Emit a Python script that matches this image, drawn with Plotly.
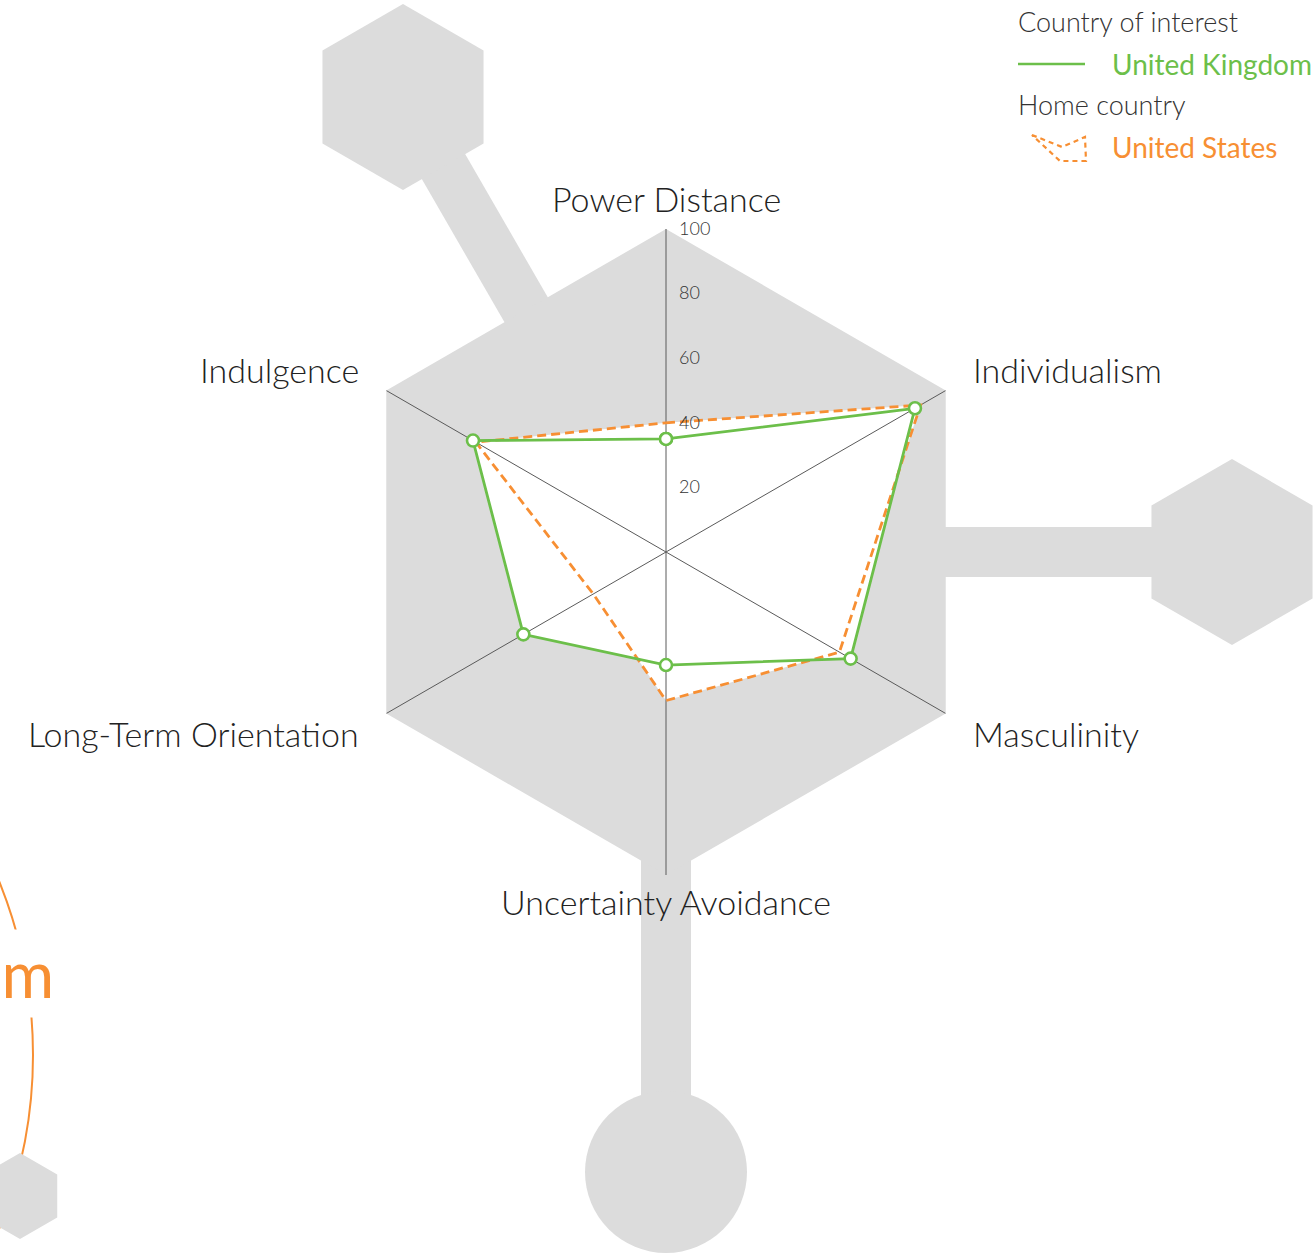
import math
import plotly.graph_objects as go

# Hofstede dimensions, clockwise from the top
dimensions = ["Power Distance", "Individualism", "Masculinity",
              "Uncertainty Avoidance", "Long-Term Orientation", "Indulgence"]
uk_scores = [35, 89, 66, 35, 51, 69]
us_scores = [40, 91, 62, 46, 26, 68]
radial_ticks = [20, 40, 60, 80, 100]
max_score = 100

GREEN = "#6cbf4a"
ORANGE = "#f78f33"
GREY = "#dcdcdc"
FONT = "Lato, 'Open Sans', sans-serif"

W, H = 1315, 1255


def px(x):
    return x / W


def py(y):
    return 1 - y / H


def poly_path(points):
    return "M " + " L ".join(f"{px(x):.5f},{py(y):.5f}" for x, y in points) + " Z"


def hexagon(cx, cy, r):
    pts = []
    for k in range(6):
        a = math.radians(90 + 60 * k)
        pts.append((cx + r * math.cos(a), cy - r * math.sin(a)))
    return poly_path(pts)


def bar(cx, cy, angle, d0, d1, width):
    a = math.radians(angle)
    ux, uy = math.cos(a), -math.sin(a)
    nx, ny = -uy, ux
    h = width / 2
    pts = [
        (cx + ux * d0 + nx * h, cy + uy * d0 + ny * h),
        (cx + ux * d1 + nx * h, cy + uy * d1 + ny * h),
        (cx + ux * d1 - nx * h, cy + uy * d1 - ny * h),
        (cx + ux * d0 - nx * h, cy + uy * d0 - ny * h),
    ]
    return poly_path(pts)


# polar centre / radius in pixels
CX, CY, R = 666, 552, 323

fig = go.Figure()

closed = dimensions + dimensions[:1]

# grey hexagon background
fig.add_trace(go.Scatterpolar(
    r=[max_score] * 7, theta=closed, mode="lines", fill="toself",
    fillcolor=GREY, line=dict(width=0, color=GREY), hoverinfo="skip", showlegend=False,
))
# white interior of both profiles
for vals in (us_scores, uk_scores):
    fig.add_trace(go.Scatterpolar(
        r=vals + vals[:1], theta=closed, mode="lines", fill="toself",
        fillcolor="white", line=dict(width=0, color="white"), hoverinfo="skip", showlegend=False,
    ))
# spokes
for d in dimensions:
    fig.add_trace(go.Scatterpolar(
        r=[0, max_score], theta=[d, d], mode="lines",
        line=dict(color="#5a5a5a", width=1), hoverinfo="skip", showlegend=False,
    ))
fig.add_trace(go.Scatterpolar(
    r=us_scores + us_scores[:1], theta=closed, mode="lines", name="United States",
    line=dict(color=ORANGE, width=2.8, dash="9px,5px"), showlegend=False,
))
fig.add_trace(go.Scatterpolar(
    r=uk_scores + uk_scores[:1], theta=closed, mode="lines+markers", name="United Kingdom",
    line=dict(color=GREEN, width=2.8),
    marker=dict(size=12, color="white", line=dict(color=GREEN, width=2.6)),
    showlegend=False,
))

shapes = []
# decorative connectors and end pieces
shapes.append(dict(type="path", path=bar(CX, CY, 120, 250, 525, 50)))
shapes.append(dict(type="path", path=hexagon(403, 97, 93)))
shapes.append(dict(type="path", path=bar(CX, CY, 0, 250, 570, 50)))
shapes.append(dict(type="path", path=hexagon(1232, 552, 93)))
shapes.append(dict(type="path", path=bar(CX, CY, 270, 250, 600, 50)))
shapes.append(dict(type="circle", x0=px(585), x1=px(747), y0=py(1091), y1=py(1253)))
for s in shapes:
    s.update(xref="paper", yref="paper", fillcolor=GREY, line=dict(width=0), layer="below")

# orange ring at bottom left with small hexagon
shapes.append(dict(type="circle", xref="paper", yref="paper", layer="below",
                   x0=px(-429 - 462), x1=px(-429 + 462), y0=py(1055 + 462), y1=py(1055 - 462),
                   line=dict(color=ORANGE, width=2)))
shapes.append(dict(type="path", xref="paper", yref="paper", path=hexagon(20, 1196, 43),
                   fillcolor=GREY, line=dict(width=0), layer="above"))

# legend samples
shapes.append(dict(type="line", xref="paper", yref="paper",
                   x0=px(1018), x1=px(1085), y0=py(64), y1=py(64),
                   line=dict(color=GREEN, width=2.5)))
shapes.append(dict(type="path", xref="paper", yref="paper",
                   path=poly_path([(1032, 135), (1062, 147), (1085, 137), (1086, 161), (1060, 161)]),
                   line=dict(color=ORANGE, width=2.2, dash="5px,4px")))

annotations = [
    dict(x=px(1016), y=py(21), text="Country of interest", xanchor="left", yanchor="middle",
         font=dict(size=27, color="#333333", family=FONT, weight=300)),
    dict(x=px(1110), y=py(64), text="United Kingdom", xanchor="left", yanchor="middle",
         font=dict(size=28, color=GREEN, family=FONT)),
    dict(x=px(1016), y=py(104), text="Home country", xanchor="left", yanchor="middle",
         font=dict(size=27, color="#333333", family=FONT, weight=300)),
    dict(x=px(1110), y=py(147), text="United States", xanchor="left", yanchor="middle",
         font=dict(size=28, color=ORANGE, family=FONT)),
    dict(x=px(60), y=py(973), text="United Kingdom", xanchor="right", yanchor="middle",
         font=dict(size=64, color=ORANGE, family=FONT), bgcolor="white", borderpad=5),
]

# dimension labels around the hexagon
for k, d in enumerate(dimensions):
    a = math.radians(90 - 60 * k)
    c, s = math.cos(a), math.sin(a)
    if abs(c) < 0.01:
        lx, ly, anchor = CX, CY - (R + 28) * s - 2, "center"
    else:
        lx = CX + (R + 29) * c
        ly = CY - (R + 41) * s - 1
        anchor = "left" if c > 0 else "right"
    annotations.append(dict(x=px(lx), y=py(ly), text=d, xanchor=anchor, yanchor="middle",
                            font=dict(size=34, color="#222222", family=FONT, weight=300)))

for a in annotations:
    a.update(xref="paper", yref="paper", showarrow=False)

fig.update_layout(
    width=W, height=H,
    margin=dict(l=0, r=0, t=0, b=0),
    paper_bgcolor="white",
    font=dict(family=FONT),
    shapes=shapes,
    annotations=annotations,
    polar=dict(
        domain=dict(x=[px(CX - R), px(CX + R)], y=[py(CY + R), py(CY - R)]),
        bgcolor="rgba(0,0,0,0)",
        angularaxis=dict(
            rotation=90, direction="clockwise", showgrid=False, showline=False,
            ticks="", showticklabels=False,
        ),
        radialaxis=dict(
            range=[0, max_score], tickvals=radial_ticks, angle=90, side="clockwise",
            tickangle=90, showgrid=False, showline=False,
            ticks="outside", ticklen=9, tickcolor="rgba(0,0,0,0)",
            tickfont=dict(size=18, color="#333333", family=FONT, weight=300),
        ),
    ),
)

fig.write_html("out.html", config={"displayModeBar": False},
               post_script="document.body.style.margin = '0px';")
